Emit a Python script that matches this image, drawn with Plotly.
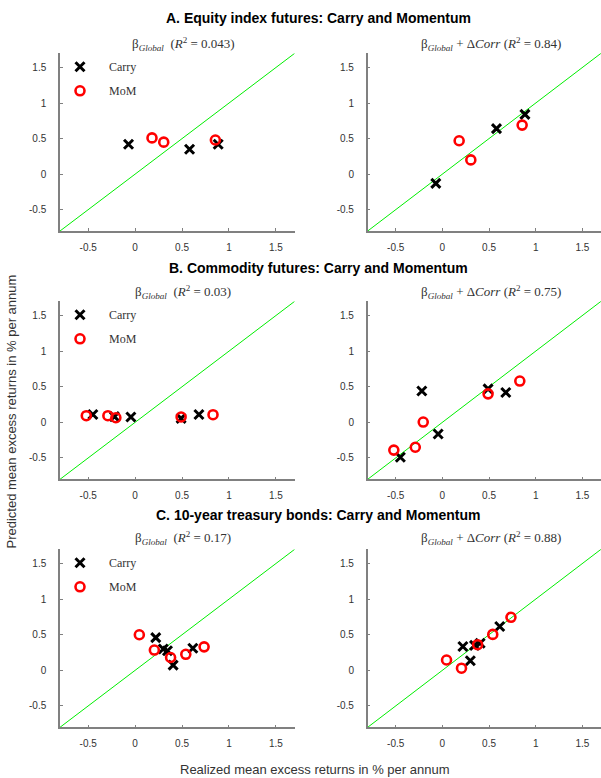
import plotly.graph_objects as go

# ---------------- data ----------------
panels = ["A", "B", "C"]
section_titles = [
    "A. Equity index futures: Carry and Momentum",
    "B. Commodity futures: Carry and Momentum",
    "C. 10-year treasury bonds: Carry and Momentum",
]
r2_beta = ["0.043", "0.03", "0.17"]
r2_corr = ["0.84", "0.75", "0.88"]

# realized (x) and predicted (y) mean excess returns
carry_real_A = [-0.07, 0.58, 0.885]
carry_beta_A = [0.42, 0.35, 0.42]
carry_corr_A = [-0.13, 0.64, 0.84]
mom_real_A = [0.18, 0.305, 0.855]
mom_beta_A = [0.51, 0.45, 0.48]
mom_corr_A = [0.47, 0.20, 0.69]

carry_real_B = [-0.45, -0.22, -0.045, 0.49, 0.68]
carry_beta_B = [0.11, 0.08, 0.075, 0.056, 0.11]
carry_corr_B = [-0.49, 0.44, -0.164, 0.47, 0.42]
mom_real_B = [-0.52, -0.29, -0.205, 0.49, 0.83]
mom_beta_B = [0.093, 0.093, 0.065, 0.075, 0.107]
mom_corr_B = [-0.39, -0.35, 0.004, 0.40, 0.58]

carry_real_C = [0.22, 0.30, 0.345, 0.405, 0.615]
carry_beta_C = [0.46, 0.30, 0.275, 0.074, 0.31]
carry_corr_C = [0.335, 0.135, 0.35, 0.38, 0.615]
mom_real_C = [0.045, 0.205, 0.378, 0.54, 0.735]
mom_beta_C = [0.50, 0.285, 0.18, 0.225, 0.33]
mom_corr_C = [0.145, 0.03, 0.36, 0.505, 0.745]

tick_vals = [-0.5, 0, 0.5, 1, 1.5]
tick_text = ["-0.5", "0", "0.5", "1", "1.5"]
axis_range = [-0.8, 1.7]

data = {
    "A": (carry_real_A, carry_beta_A, carry_corr_A, mom_real_A, mom_beta_A, mom_corr_A),
    "B": (carry_real_B, carry_beta_B, carry_corr_B, mom_real_B, mom_beta_B, mom_corr_B),
    "C": (carry_real_C, carry_beta_C, carry_corr_C, mom_real_C, mom_beta_C, mom_corr_C),
}

# ---------------- layout geometry ----------------
W, H = 601, 778
SANS = "Liberation Sans, Arial, sans-serif"
SERIF = "Liberation Serif, Times New Roman, serif"
AXCOL = "#808080"


def px_x(px):
    return min(1.0, max(0.0, px / W))


def px_y(py):
    return min(1.0, max(0.0, 1 - py / H))


x_dom = [[px_x(60), px_x(294.7)], [px_x(367.7), 1.0]]
row_px = [(53.3, 231.0), (301.3, 479.3), (549.3, 727.3)]  # top, bottom in px
y_dom = [[px_y(b), px_y(t)] for (t, b) in row_px]

fig = go.Figure()
layout = dict(
    width=W, height=H,
    margin=dict(l=0, r=0, t=0, b=0),
    paper_bgcolor="white", plot_bgcolor="white",
    showlegend=True,
    annotations=[],
)

marker_carry = dict(symbol="x-thin", size=9, color="black",
                    line=dict(width=3, color="black"))
marker_mom = dict(symbol="circle-open", size=9, color="red",
                  line=dict(width=2.6, color="red"))

legend_names = ["legend", "legend2", "legend3"]

k = 0
for r, p in enumerate(panels):
    cr, cb, cc, mr, mb, mc = data[p]
    for c in range(2):
        k += 1
        xa = "x" if k == 1 else f"x{k}"
        ya = "y" if k == 1 else f"y{k}"
        xkey = "xaxis" if k == 1 else f"xaxis{k}"
        ykey = "yaxis" if k == 1 else f"yaxis{k}"
        common = dict(
            range=axis_range, tickvals=tick_vals, ticktext=tick_text,
            ticks="inside", ticklen=3, tickwidth=1, tickcolor=AXCOL,
            showline=True, linecolor=AXCOL, linewidth=1.5,
            showgrid=False, zeroline=False, mirror=False,
            tickfont=dict(family=SANS, size=10, color="#333333"),
            fixedrange=True,
        )
        layout[xkey] = dict(common, domain=x_dom[c], anchor=ya, ticklabelstandoff=6)
        layout[ykey] = dict(common, domain=y_dom[r], anchor=xa, ticklabelstandoff=10)

        # 45-degree line
        fig.add_trace(go.Scatter(x=axis_range, y=axis_range, mode="lines",
                                 line=dict(color="#00ee00", width=1),
                                 xaxis=xa, yaxis=ya, showlegend=False,
                                 hoverinfo="skip"))
        ys_c = cb if c == 0 else cc
        ys_m = mb if c == 0 else mc
        show = (c == 0)
        fig.add_trace(go.Scatter(x=cr, y=ys_c, mode="markers", name="Carry",
                                 marker=marker_carry, xaxis=xa, yaxis=ya,
                                 showlegend=show, legend=legend_names[r],
                                 legendgroup=f"carry{r}"))
        fig.add_trace(go.Scatter(x=mr, y=ys_m, mode="markers", name="MoM",
                                 marker=marker_mom, xaxis=xa, yaxis=ya,
                                 showlegend=show, legend=legend_names[r],
                                 legendgroup=f"mom{r}"))

    # legend for this row
    top_px = row_px[r][0]
    layout[legend_names[r]] = dict(
        x=px_x(51), y=px_y(top_px - 1), xanchor="left", yanchor="top",
        bgcolor="rgba(0,0,0,0)", borderwidth=0,
        font=dict(family=SERIF, size=12, color="#333333"),
        itemwidth=48, tracegroupgap=5, traceorder="grouped",
    )

    # section title
    sec_y = [18, 268, 515][r]
    layout["annotations"].append(dict(
        text=f"<b>{section_titles[r]}</b>", x=px_x(318), y=px_y(sec_y),
        xref="paper", yref="paper", showarrow=False,
        font=dict(family=SANS, size=14, color="black"),
        xanchor="center", yanchor="middle"))
    sub_y = [44, 292, 538][r]
    layout["annotations"].append(dict(
        text=f"β<sub><i>Global</i></sub>  (<i>R</i><sup>2</sup> = {r2_beta[r]})",
        x=px_x(183), y=px_y(sub_y), xref="paper", yref="paper",
        showarrow=False, font=dict(family=SERIF, size=13, color="#333333"),
        xanchor="center", yanchor="middle"))
    layout["annotations"].append(dict(
        text=f"β<sub><i>Global</i></sub> + Δ<i>Corr</i> (<i>R</i><sup>2</sup> = {r2_corr[r]})",
        x=px_x(491), y=px_y(sub_y), xref="paper", yref="paper",
        showarrow=False, font=dict(family=SERIF, size=13, color="#333333"),
        xanchor="center", yanchor="middle"))

# axis titles
layout["annotations"].append(dict(
    text="Predicted mean excess returns in % per annum",
    x=px_x(1), y=px_y(412), xref="paper", yref="paper", textangle=-90,
    showarrow=False, font=dict(family=SANS, size=13, color="#333333"),
    xanchor="left", yanchor="middle"))
layout["annotations"].append(dict(
    text="Realized mean excess returns in % per annum",
    x=px_x(315), y=px_y(769), xref="paper", yref="paper",
    showarrow=False, font=dict(family=SANS, size=13, color="#333333"),
    xanchor="center", yanchor="middle"))

fig.update_layout(**layout)
fig.write_html("out.html",
               config={"displayModeBar": False},
               post_script="document.body.style.margin='0';")
